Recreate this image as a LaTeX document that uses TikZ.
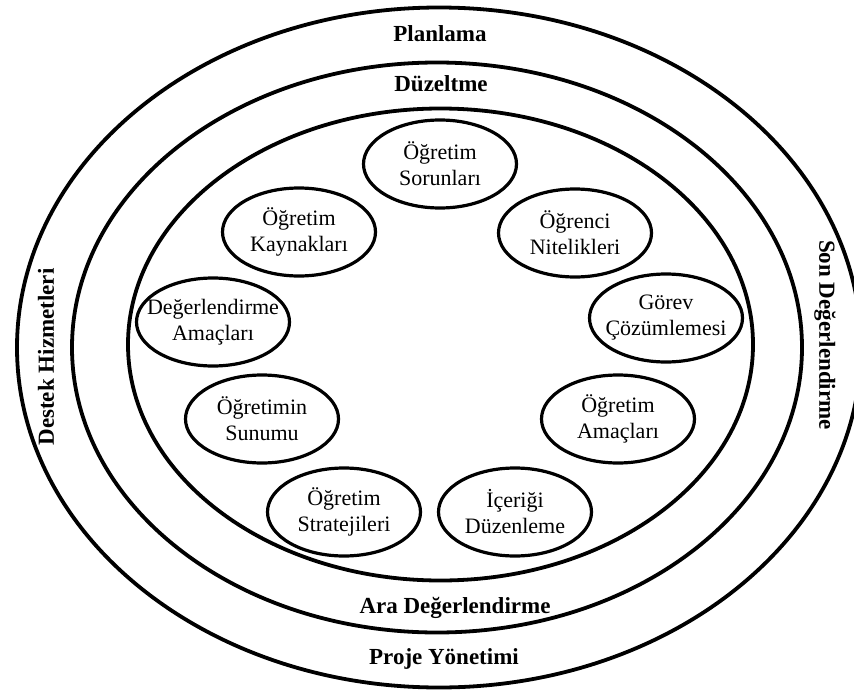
\documentclass[tikz,border=0pt]{standalone}
\usepackage{fontspec}
\setmainfont{Liberation Serif}
\usetikzlibrary{shapes.geometric}

\begin{document}
\begin{tikzpicture}[x=1pt,y=1pt,
  ring/.style={draw=black, line width=3.8pt},
  stage/.style={ellipse, draw=black, line width=3.2pt,
    minimum width=153pt, minimum height=88pt, inner sep=0pt,
    label={[stagetext]center:#1}},
  stagetext/.style={align=center, inner sep=0pt,
    font=\fontsize{22}{26}\selectfont},
  band/.style={font=\fontsize{23}{27}\selectfont\bfseries, inner sep=0pt}]
\useasboundingbox (0,0) rectangle (854,-693);
\begin{scope}
  % the outermost ring runs slightly past the right edge
  \clip (0,0) rectangle (854,-693);
  \draw[ring] (439,-347.5) ellipse [x radius=422, y radius=340];
  \draw[ring] (437,-347.5) ellipse [x radius=365, y radius=285];
  \draw[ring] (440.5,-344.5) ellipse [x radius=312.5, y radius=236];
\end{scope}

% labels of the rings
\node[band] (planlama) at (440,-34) {Planlama};
\node[band] (duzeltme) at (441,-84) {Düzeltme};
\node[band] (ara) at (455,-608) {Ara Değerlendirme};
\node[band] (proje) at (444,-659) {Proje Yönetimi};
\node[band, rotate=90] (destek) at (46,-357) {Destek Hizmetleri};
\node[band, rotate=-90] (son) at (825,-335) {Son Değerlendirme};

% the nine stages
\node[stage={Öğretim\\Sorunları}]       (sorun)    at (440,-164) {};
\node[stage={Öğrenci\\Nitelikleri}]     (ogrenci)  at (575,-233) {};
\node[stage={Görev\\Çözümlemesi}]       (gorev)    at (666,-318) {};
\node[stage={Öğretim\\Amaçları}]        (amac)     at (618,-419) {};
\node[stage={İçeriği\\Düzenleme}]       (icerik)   at (515,-512) {};
\node[stage={Öğretim\\Stratejileri}]    (strateji) at (344,-512) {};
\node[stage={Öğretimin\\Sunumu}]        (sunum)    at (262,-419) {};
\node[stage={Değerlendirme\\Amaçları}]  (degamac)  at (213,-322) {};
\node[stage={Öğretim\\Kaynakları}]      (kaynak)   at (299,-232) {};
\end{tikzpicture}
\end{document}
